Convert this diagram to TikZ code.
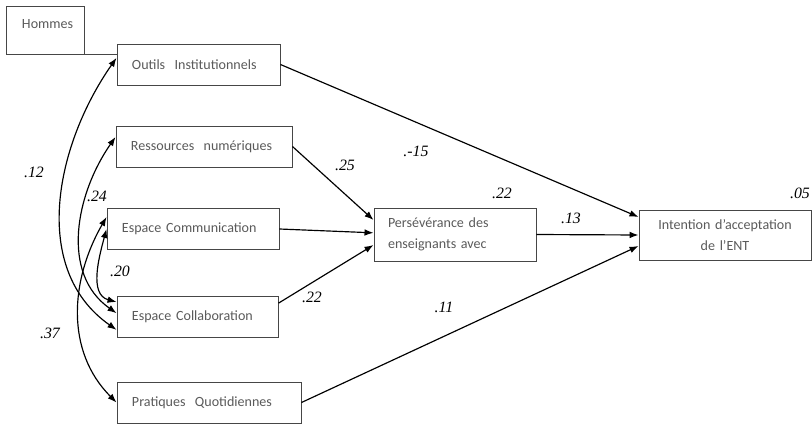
\documentclass[tikz,border=0pt]{standalone}
\usepackage{fontspec}
\setmainfont{Carlito}
\newfontfamily\coeffont{Liberation Serif}
\usetikzlibrary{arrows.meta}
\definecolor{boxgray}{RGB}{70,70,70}
\definecolor{textgray}{RGB}{90,90,90}

\begin{document}
\begin{tikzpicture}[
  x=0.03cm,y=-0.03cm,
  box/.style={rectangle,draw=boxgray,line width=0.8pt,minimum height=1.23cm,inner xsep=0.45cm,align=left,text=textgray,font=\fontsize{12}{18}\selectfont},
  coef/.style={font=\coeffont\itshape\fontsize{13.5}{13.5}\selectfont},
  arrow/.style={-{Latex[length=2.7mm,width=2mm]},line width=1pt},
  corr/.style={{Latex[length=2.7mm,width=2mm]}-{Latex[length=2.7mm,width=2mm]},line width=1pt}]
  \useasboundingbox (0,0) rectangle (812,424);
  % boxes
  \node[box,minimum width=2.34cm,minimum height=1.44cm,inner ysep=0pt,inner xsep=0.48cm,text width=1.38cm,text height=0.69cm,text depth=0.75cm] (hommes) at (45,30) {Hommes};
  \node[box,minimum width=4.89cm,text width=3.99cm] (outils) at (198.5,64.5) {Outils\ \ Institutionnels};
  \node[box,minimum width=5.28cm,text width=4.38cm] (ressources) at (204,146.5) {Ressources\ \ numériques};
  \node[box,minimum width=5.16cm,text width=4.26cm] (comm) at (193,229) {Espace Communication};
  \node[box,minimum width=4.83cm,text width=3.93cm] (collab) at (197.5,316.5) {Espace Collaboration};
  \node[box,minimum width=5.52cm,text width=4.62cm] (pratiques) at (209,402.5) {Pratiques\ \ Quotidiennes};
  \node[box,minimum width=4.86cm,minimum height=1.59cm,inner xsep=0.42cm,text width=4.02cm] (persev) at (455,234.5) {Persévérance des\\enseignants avec};
  \node[box,minimum width=5.16cm,minimum height=1.5cm,text width=4.26cm,align=center] (intention) at (725,235) {Intention d’acceptation\\de l’ENT};
  \draw[draw=boxgray,line width=0.8pt] (hommes.south east) -- (hommes.south east -| outils.west);
  % paths
  \draw[arrow] (outils.east) -- ([yshift=5.4mm]intention.west);
  \draw[arrow] (persev.east) -- (intention.west);
  \draw[arrow] (pratiques.east) -- ([yshift=-3.3mm]intention.west);
  \draw[arrow] (ressources.east) -- ([yshift=4.35mm]persev.west);
  \draw[arrow] (comm.east) -- ([yshift=0.5mm]persev.west);
  \draw[arrow] ([yshift=4mm]collab.east) -- ([yshift=-3.15mm]persev.west);
  % correlations
  \draw[corr] ([yshift=2mm]outils.west) to[out=235,in=145] ([yshift=-4mm]collab.west);
  \draw[corr] ([yshift=2.85mm]ressources.west) to[out=235,in=145] ([yshift=1mm]collab.west);
  \draw[corr] (comm.west) to[out=255,in=165] ([yshift=4.35mm]collab.west);
  \draw[corr] ([yshift=3.6mm]comm.west) to[out=240,in=135] (pratiques.west);
  % coefficients
  \node[coef] (c12) at (34,172) {.12};
  \node[coef] (c24) at (97,196) {.24};
  \node[coef] (c20) at (120,271) {.20};
  \node[coef] (c37) at (50,333) {.37};
  \node[coef] (c25) at (345,165) {.25};
  \node[coef] (c15) at (416,151) {.-15};
  \node[coef] (c22p) at (502,193) {.22};
  \node[coef] (c22c) at (312,297) {.22};
  \node[coef] (c11) at (444,307) {.11};
  \node[coef] (c13) at (571,218) {.13};
  \node[coef] (c05) at (800,193) {.05};
\end{tikzpicture}
\end{document}
